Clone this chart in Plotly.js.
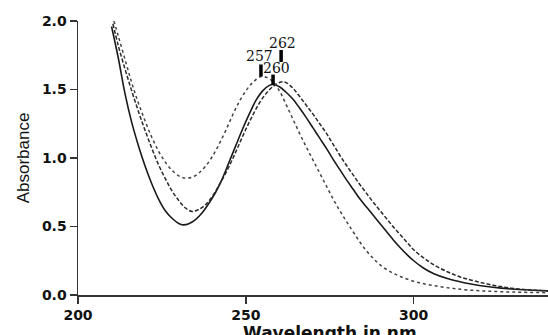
<!DOCTYPE html>
<html>
<head>
<meta charset="utf-8">
<script src="https://cdn.plot.ly/plotly-3.0.1.min.js"></script>
<style>html,body{margin:0;padding:0;background:#fff;overflow:hidden}#chart{width:548px;height:335px}</style>
</head>
<body>
<div id="chart"></div>
<script>
// Solid curve (peak labelled 260)
const solidWl = [210,212,214,216,218,220,222,224,226,228,230,231.3,233,235,237,239,241,243,245,247,249,251,253,255,257,258.1,260,262,264,266,268,270,272,274,276,278,280,282,284,286,288,290,292,294,296,298,300,303,306,310,315,320,326,333,340];
const solidAbs = [1.96,1.73,1.47,1.26,1.09,0.94,0.81,0.70,0.615,0.56,0.522,0.512,0.52,0.55,0.60,0.67,0.75,0.85,0.97,1.09,1.21,1.32,1.42,1.49,1.53,1.536,1.52,1.48,1.43,1.365,1.295,1.22,1.145,1.07,0.99,0.915,0.84,0.77,0.70,0.64,0.58,0.52,0.46,0.40,0.345,0.295,0.25,0.195,0.155,0.12,0.09,0.068,0.05,0.038,0.03];

// Dashed curve (peak labelled 262)
const dashWl = [210.4,212,214,216,218,220,222,224,226,228,230,232,234,236,238,240,242,244,246,248,250,252,254,256,258,260.5,262,264,266,268,270,272,274,276,278,280,282,284,286,288,290,292,294,296,298,300,303,306,310,314,319,324,329,334,340];
const dashAbs = [1.98,1.82,1.65,1.49,1.34,1.20,1.07,0.95,0.85,0.76,0.69,0.635,0.61,0.625,0.66,0.72,0.80,0.89,0.99,1.10,1.21,1.31,1.40,1.47,1.52,1.555,1.55,1.51,1.45,1.385,1.32,1.25,1.18,1.10,1.02,0.945,0.875,0.805,0.74,0.675,0.615,0.555,0.495,0.44,0.385,0.33,0.27,0.22,0.17,0.13,0.097,0.07,0.05,0.038,0.03];

// Dotted curve (peak labelled 257)
const dotWl = [210.7,212,214,216,218,220,222,224,226,228,230,232,234,236,238,240,242,244,246,248,250,252,254.5,256,258,260,262,264,266,268,270,272,274,276,278,280,282,284,286,288,290,293,296,300,304,308,312,316,322,330,340];
const dotAbs = [2.00,1.89,1.72,1.55,1.40,1.27,1.15,1.05,0.97,0.91,0.87,0.853,0.86,0.89,0.94,1.01,1.10,1.20,1.31,1.41,1.49,1.55,1.595,1.59,1.56,1.49,1.39,1.285,1.18,1.08,0.985,0.89,0.795,0.70,0.615,0.535,0.46,0.385,0.32,0.265,0.22,0.17,0.135,0.10,0.077,0.06,0.047,0.037,0.028,0.021,0.017];

const peakLabels = ['257', '260', '262'];

const xTicks = [200, 250, 300];
const yTicks = [0, 0.5, 1.0, 1.5, 2.0];
const yTickText = ['0.0', '0.5', '1.0', '1.5', '2.0'];

// absorbance maximum after the spectrum's minimum
function peakOf(xs, ys) {
  let m = 0;
  for (let i = 1; i < ys.length; i++) if (ys[i] < ys[m] && xs[i] < 250) m = i;
  let k = m;
  for (let i = m; i < ys.length; i++) if (ys[i] > ys[k]) k = i;
  return [xs[k], ys[k]];
}

const traces = [
  {x: solidWl, y: solidAbs, mode: 'lines', line: {color: '#1a1a1a', width: 1.6, shape: 'spline', smoothing: 1}, hoverinfo: 'skip'},
  {x: dashWl, y: dashAbs, mode: 'lines', line: {color: '#2a2a2a', width: 1.5, dash: '4px,2px', shape: 'spline', smoothing: 1}, hoverinfo: 'skip'},
  {x: dotWl, y: dotAbs, mode: 'lines', line: {color: '#444', width: 1.5, dash: 'dot', shape: 'spline', smoothing: 1}, hoverinfo: 'skip'}
];

const peaks = [peakOf(dotWl, dotAbs), peakOf(solidWl, solidAbs), peakOf(dashWl, dashAbs)];
// bar pixel offsets above peak [start, end], text offset [x, y]
const barOff = [[0, 12], [0, 10], [20, 32]];
const txtOff = [[-1, 20], [3, 17], [1, 39]];

const shapes = peaks.map((p, i) => ({
  type: 'line', xref: 'x', yref: 'y', ysizemode: 'pixel', yanchor: p[1],
  x0: p[0], x1: p[0], y0: barOff[i][0], y1: barOff[i][1],
  line: {color: '#000', width: 3.5}
}));

const annotations = peaks.map((p, i) => ({
  x: p[0], y: p[1], xref: 'x', yref: 'y', text: peakLabels[i], showarrow: false,
  xshift: txtOff[i][0], yshift: txtOff[i][1], xanchor: 'center', yanchor: 'middle',
  font: {family: 'DejaVu Serif, serif', size: 14, color: '#111'}
}));

annotations.push({
  xref: 'paper', yref: 'paper', x: 0.536, y: -0.095, xanchor: 'center', yanchor: 'top',
  text: '<b>Wavelength in nm</b>', showarrow: false,
  font: {family: 'DejaVu Sans, sans-serif', size: 17, color: '#111'}
});

const tickFont = {family: 'DejaVu Sans, sans-serif', size: 14, color: '#111', weight: 'bold'};

const layout = {
  width: 548, height: 335,
  margin: {l: 78, r: 0, t: 21, b: 40},
  paper_bgcolor: '#fff', plot_bgcolor: '#fff',
  showlegend: false,
  xaxis: {
    range: [200, 340], tickvals: xTicks, ticktext: xTicks.map(String),
    showgrid: false, zeroline: false, showline: true, linecolor: '#333', linewidth: 1.5,
    ticks: 'outside', ticklen: 7, tickwidth: 1.5, tickcolor: '#333',
    tickfont: tickFont
  },
  yaxis: {
    range: [0, 2], tickvals: yTicks, ticktext: yTickText,
    showgrid: false, zeroline: false, showline: true, linecolor: '#333', linewidth: 1.5,
    ticks: 'outside', ticklen: 7, tickwidth: 1.5, tickcolor: '#333',
    tickfont: tickFont,
    title: {text: 'Absorbance', font: {family: 'Liberation Sans, Arial, sans-serif', size: 17, color: '#111'}, standoff: 8}
  },
  shapes: shapes,
  annotations: annotations
};

Plotly.newPlot('chart', traces, layout, {displayModeBar: false, staticPlot: true});
</script>
</body>
</html>
